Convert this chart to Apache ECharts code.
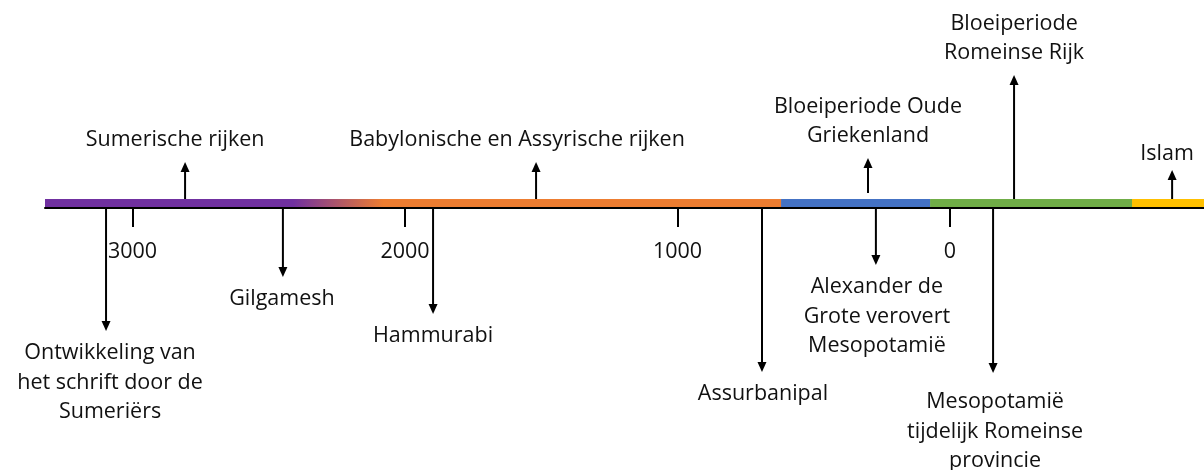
<!DOCTYPE html>
<html>
<head>
<meta charset="utf-8">
<title>Tijdlijn Mesopotamië</title>
<script src="https://cdn.jsdelivr.net/npm/echarts@6/dist/echarts.min.js"></script>
<style>
    html, body { margin: 0; padding: 0; background: #fff; }
    #main { width: 1204px; height: 470px; }
</style>
</head>
<body>
<div id="main"></div>
<script>
// jaartallen: negatief = v.Chr.
var tickYears = [-3000, -2000, -1000, 0];

// gekleurde perioden op de tijdlijn (de tweede is de overgang paars -> oranje)
var periodStart = [-3321, -2411, -2081, -620, -73, 668];
var periodEnd = [-2411, -2081, -620, -73, 668, 932];

var eventNames = [
    'Ontwikkeling van\nhet schrift door de\nSumeriërs',
    'Sumerische rijken',
    'Gilgamesh',
    'Hammurabi',
    'Babylonische en Assyrische rijken',
    'Assurbanipal',
    'Bloeiperiode Oude\nGriekenland',
    'Alexander de\nGrote verovert\nMesopotamië',
    'Mesopotamië\ntijdelijk Romeinse\nprovincie',
    'Bloeiperiode\nRomeinse Rijk',
    'Islam'
];
var eventYears = [-3097, -2807, -2448, -1897, -1519, -690, -301, -272, 158, 235, 815];
var eventSide = ['down', 'up', 'down', 'down', 'up', 'down', 'up', 'down', 'down', 'up', 'up'];

// opmaak (pixels)
var periodColors = ['#7030a0', 'fade', '#ed7d31', '#4472c4', '#70ad47', '#ffc000'];
var arrowLen = [122, 37, 68, 105, 37, 163, 35, 56, 164, 124, 29];
var arrowGap = [0, 0, 0, 0, 0, 0, 6, 0, 0, 0, 0];
var labelGap = [22, 22, 22, 22, 22, 22, 22, 22, 29, 22, 16];
var labelDx = [4, -10, -1, 0, -19, 1, 0, 1, 2, 0, -5];
var textFont = 'Open Sans';
var textSize = 21.5;
var textColor = '#111';
var lineH = 29.5;

var chart = echarts.init(document.getElementById('main'));

function renderPeriod(params, api) {
    var a = api.coord([api.value(0), 0]);
    var b = api.coord([api.value(1), 0]);
    var idx = api.value(2);
    var fill = periodColors[idx];
    if (fill === 'fade') {
        fill = new echarts.graphic.LinearGradient(0, 0, 1, 0, [
            { offset: 0, color: periodColors[0] },
            { offset: 1, color: periodColors[2] }
        ]);
    }
    return {
        type: 'rect',
        shape: { x: a[0], y: a[1] - 9, width: b[0] - a[0] + 0.5, height: 8 },
        style: { fill: fill }
    };
}

function renderEvent(params, api) {
    var p = api.coord([api.value(0), 0]);
    var i = api.value(2);
    var x = p[0];
    var y0, tip, head, text;
    if (eventSide[i] === 'up') {
        y0 = p[1] - 9 - arrowGap[i];
        tip = y0 - arrowLen[i];
        head = [[x - 4.5, tip + 10], [x + 4.5, tip + 10], [x, tip]];
        text = {
            type: 'text',
            style: {
                text: eventNames[i], x: x + labelDx[i], y: tip - labelGap[i] + lineH / 2,
                align: 'center', verticalAlign: 'bottom', lineHeight: lineH,
                fontFamily: textFont, fontSize: textSize, fill: textColor
            }
        };
    } else {
        y0 = p[1] + 1;
        tip = y0 + arrowLen[i];
        head = [[x - 4.5, tip - 10], [x + 4.5, tip - 10], [x, tip]];
        text = {
            type: 'text',
            style: {
                text: eventNames[i], x: x + labelDx[i], y: tip + labelGap[i] - lineH / 2,
                align: 'center', verticalAlign: 'top', lineHeight: lineH,
                fontFamily: textFont, fontSize: textSize, fill: textColor
            }
        };
    }
    return {
        type: 'group',
        children: [
            {
                type: 'line',
                shape: { x1: x, y1: y0, x2: x, y2: eventSide[i] === 'up' ? tip + 8 : tip - 8 },
                style: { stroke: '#000', lineWidth: 2 }
            },
            {
                type: 'polygon',
                shape: { points: head },
                style: { fill: '#000' }
            },
            text
        ]
    };
}

var option = {
    animation: false,
    // de onderkant van het grid is de tijdlijn zelf
    grid: { left: 45, right: 0, top: 0, height: 208, outerBoundsMode: 'none' },
    xAxis: {
        type: 'value',
        min: -3321,
        max: 932,
        axisLine: { onZero: false, lineStyle: { color: '#000', width: 2 } },
        axisTick: { customValues: tickYears, length: 19, lineStyle: { color: '#000', width: 2 } },
        axisLabel: {
            customValues: tickYears,
            margin: 33,
            fontFamily: textFont,
            fontSize: textSize,
            color: textColor,
            formatter: function (v) { return String(Math.abs(v)); }
        },
        splitLine: { show: false }
    },
    yAxis: { type: 'value', min: 0, max: 1, show: false },
    series: [
        {
            type: 'custom',
            silent: true,
            clip: false,
            renderItem: renderPeriod,
            encode: { x: [0, 1] },
            data: periodStart.map(function (s, i) { return [s, periodEnd[i], i]; })
        },
        {
            type: 'custom',
            silent: true,
            clip: false,
            renderItem: renderEvent,
            encode: { x: 0, y: 1 },
            data: eventYears.map(function (y, i) { return [y, 0, i]; })
        }
    ]
};
chart.setOption(option);
</script>
</body>
</html>
